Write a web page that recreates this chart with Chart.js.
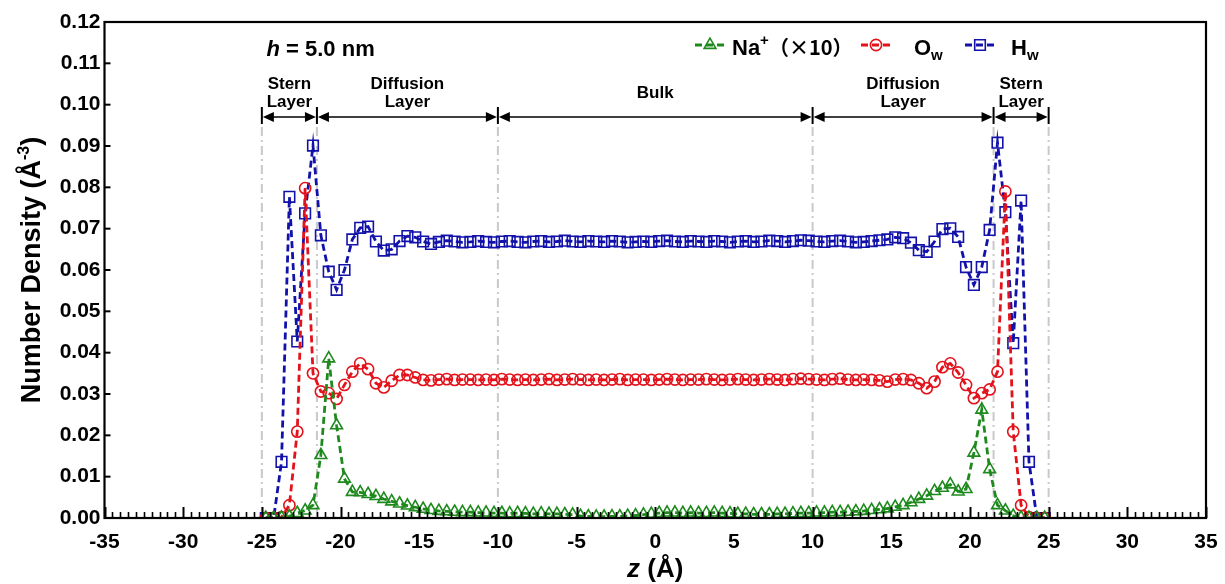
<!DOCTYPE html>
<html>
<head>
<meta charset="utf-8">
<script src="https://cdn.jsdelivr.net/npm/chart.js@4/dist/chart.umd.min.js"></script>
<style>
  html, body { margin: 0; padding: 0; background: #ffffff; }
  #wrap { width: 1225px; height: 584px; }
</style>
</head>
<body>
<div id="wrap"><canvas id="c" width="1225" height="584"></canvas></div>
<script>
// Bin centres along z (Å), 0.5 Å bins across the 5.0 nm channel
const zCenters = [
  -24.75, -24.25, -23.75, -23.25, -22.75, -22.25, -21.75, -21.25, -20.75, -20.25,
  -19.75, -19.25, -18.75, -18.25, -17.75, -17.25, -16.75, -16.25, -15.75, -15.25,
  -14.75, -14.25, -13.75, -13.25, -12.75, -12.25, -11.75, -11.25, -10.75, -10.25,
  -9.75, -9.25, -8.75, -8.25, -7.75, -7.25, -6.75, -6.25, -5.75, -5.25,
  -4.75, -4.25, -3.75, -3.25, -2.75, -2.25, -1.75, -1.25, -0.75, -0.25,
  0.25, 0.75, 1.25, 1.75, 2.25, 2.75, 3.25, 3.75, 4.25, 4.75,
  5.25, 5.75, 6.25, 6.75, 7.25, 7.75, 8.25, 8.75, 9.25, 9.75,
  10.25, 10.75, 11.25, 11.75, 12.25, 12.75, 13.25, 13.75, 14.25, 14.75,
  15.25, 15.75, 16.25, 16.75, 17.25, 17.75, 18.25, 18.75, 19.25, 19.75,
  20.25, 20.75, 21.25, 21.75, 22.25, 22.75, 23.25, 23.75, 24.25, 24.75
];

// Na+ number density, scaled by 10 (Å^-3)
const naDensity = [
  0, 0, 0.0001, 0.0004, 0.0012, 0.0018, 0.0031, 0.0152, 0.0386, 0.0224,
  0.0095, 0.0063, 0.0062, 0.0058, 0.0053, 0.0046, 0.0040, 0.0035, 0.0030, 0.0026,
  0.0022, 0.0019, 0.0017, 0.0016, 0.0015, 0.0014, 0.0014, 0.0013, 0.0013, 0.0012,
  0.0012, 0.0011, 0.0012, 0.0011, 0.0010, 0.0011, 0.0010, 0.0010, 0.0009, 0.0008,
  0.0005, 0.0004, 0.0003, 0.0003, 0.0004, 0.0004, 0.0005, 0.0006, 0.0008, 0.0010,
  0.0012, 0.0013, 0.0013, 0.0012, 0.0013, 0.0012, 0.0012, 0.0013, 0.0012, 0.0011,
  0.0010, 0.0010, 0.0009, 0.0009, 0.0009, 0.0010, 0.0010, 0.0011, 0.0012, 0.0012,
  0.0013, 0.0013, 0.0014, 0.0014, 0.0015, 0.0016, 0.0017, 0.0019, 0.0021, 0.0023,
  0.0027, 0.0031, 0.0038, 0.0046, 0.0054, 0.0065, 0.0073, 0.0081, 0.0064, 0.0070,
  0.0158, 0.0262, 0.0118, 0.0031, 0.0018, 0.0005, 0.0001, 0, 0, 0
];

// Water oxygen number density (Å^-3)
const owDensity = [
  0, 0, 0.0002, 0.0031, 0.0209, 0.0798, 0.0350, 0.0306, 0.0302, 0.0288,
  0.0322, 0.0354, 0.0374, 0.0360, 0.0326, 0.0316, 0.0332, 0.0346, 0.0346, 0.0340,
  0.0334, 0.0333, 0.0335, 0.0336, 0.0334, 0.0335, 0.0335, 0.0334, 0.0335, 0.0334,
  0.0336, 0.0335, 0.0334, 0.0335, 0.0334, 0.0335, 0.0336, 0.0334, 0.0335, 0.0336,
  0.0335, 0.0334, 0.0335, 0.0334, 0.0335, 0.0336, 0.0334, 0.0335, 0.0335, 0.0334,
  0.0335, 0.0336, 0.0335, 0.0334, 0.0335, 0.0335, 0.0336, 0.0335, 0.0334, 0.0335,
  0.0336, 0.0335, 0.0334, 0.0335, 0.0336, 0.0335, 0.0334, 0.0336, 0.0337, 0.0336,
  0.0335, 0.0334, 0.0336, 0.0337, 0.0335, 0.0334, 0.0335, 0.0334, 0.0333, 0.0330,
  0.0335, 0.0336, 0.0334, 0.0326, 0.0314, 0.0330, 0.0365, 0.0374, 0.0352, 0.0322,
  0.0290, 0.0302, 0.0311, 0.0354, 0.0790, 0.0209, 0.0031, 0.0002, 0, 0
];

// Water hydrogen number density (Å^-3)
const hwDensity = [
  0, 0, 0.0136, 0.0777, 0.0427, 0.0737, 0.0901, 0.0684, 0.0596, 0.0552,
  0.0600, 0.0674, 0.0702, 0.0705, 0.0669, 0.0647, 0.0650, 0.0670, 0.0682, 0.0679,
  0.0669, 0.0663, 0.0668, 0.0671, 0.0669, 0.0667, 0.0668, 0.0670, 0.0668, 0.0667,
  0.0669, 0.0670, 0.0668, 0.0667, 0.0669, 0.0670, 0.0668, 0.0669, 0.0671, 0.0669,
  0.0668, 0.0670, 0.0669, 0.0668, 0.0670, 0.0669, 0.0667, 0.0668, 0.0669, 0.0668,
  0.0670, 0.0671, 0.0669, 0.0668, 0.0670, 0.0669, 0.0668, 0.0670, 0.0669, 0.0667,
  0.0669, 0.0670, 0.0668, 0.0669, 0.0671, 0.0670, 0.0668, 0.0670, 0.0672, 0.0671,
  0.0669, 0.0668, 0.0670, 0.0671, 0.0669, 0.0667, 0.0668, 0.0670, 0.0672, 0.0674,
  0.0679, 0.0677, 0.0666, 0.0648, 0.0644, 0.0669, 0.0699, 0.0701, 0.0680, 0.0607,
  0.0564, 0.0607, 0.0697, 0.0908, 0.0740, 0.0423, 0.0768, 0.0136, 0, 0
];

// Axis ticks
const xTickValues = [-35, -30, -25, -20, -15, -10, -5, 0, 5, 10, 15, 20, 25, 30, 35];
const yTickValues = [0.00, 0.01, 0.02, 0.03, 0.04, 0.05, 0.06, 0.07, 0.08, 0.09, 0.10, 0.11, 0.12];

// Layer boundaries (Å) and their captions
const layerBounds = [-25, -21.5, -10, 10, 21.5, 25];
const layerNames = [["Stern", "Layer"], ["Diffusion", "Layer"], ["Bulk"], ["Diffusion", "Layer"], ["Stern", "Layer"]];

const FONT = "'Liberation Sans', Arial, Helvetica, 'Noto Sans CJK SC', sans-serif";
const NA_COLOR = '#1E8A1E';
const OW_COLOR = '#E3121B';
const HW_COLOR = '#1212AA';

function toPoints(values) {
  return zCenters.map((z, i) => ({ x: z, y: values[i] }));
}

// Draw a run of text pieces with individual fonts/offsets
function runsWidth(ctx, runs) {
  let w = 0;
  runs.forEach(r => { ctx.font = r.font; w += ctx.measureText(r.t).width; });
  return w;
}
function drawRuns(ctx, x, y, runs, align) {
  const w = runsWidth(ctx, runs);
  let cx = align === 'center' ? x - w / 2 : (align === 'right' ? x - w : x);
  ctx.textAlign = 'left';
  ctx.textBaseline = 'alphabetic';
  runs.forEach(r => {
    ctx.font = r.font;
    ctx.fillText(r.t, cx, y + (r.dy || 0));
    cx += ctx.measureText(r.t).width;
  });
}

function drawMarker(ctx, style, x, y, color) {
  ctx.save();
  ctx.strokeStyle = color;
  ctx.lineWidth = 1.6;
  ctx.setLineDash([]);
  ctx.beginPath();
  if (style === 'rect') {
    ctx.rect(x - 5.3, y - 5.3, 10.6, 10.6);
  } else if (style === 'circle') {
    ctx.arc(x, y, 5.6, 0, Math.PI * 2);
  } else {
    const r = 6.8;
    ctx.moveTo(x, y - r);
    ctx.lineTo(x + r * Math.sin(2 * Math.PI / 3), y - r * Math.cos(2 * Math.PI / 3));
    ctx.lineTo(x + r * Math.sin(4 * Math.PI / 3), y - r * Math.cos(4 * Math.PI / 3));
    ctx.closePath();
  }
  ctx.stroke();
  ctx.restore();
}

const decorPlugin = {
  id: 'decor',
  beforeDatasetsDraw(chart) {
    const { ctx, chartArea, scales: { x } } = chart;
    ctx.save();
    ctx.strokeStyle = '#c9c9c9';
    ctx.lineWidth = 2;
    ctx.setLineDash([9, 4, 2, 4]);
    layerBounds.forEach(b => {
      const px = x.getPixelForValue(b);
      ctx.beginPath();
      ctx.moveTo(px, chartArea.top + 105);
      ctx.lineTo(px, chartArea.bottom);
      ctx.stroke();
    });
    ctx.restore();
  },
  afterDraw(chart) {
    const { ctx, chartArea, scales: { x, y } } = chart;
    const { left, right, top, bottom } = chartArea;
    ctx.save();
    ctx.setLineDash([]);
    ctx.strokeStyle = '#000';
    ctx.fillStyle = '#000';

    // inward ticks on bottom axis: majors every 5 Å, minors every 0.5 Å
    for (let k = -70; k <= 70; k++) {
      const v = k * 0.5;
      const px = Math.round(x.getPixelForValue(v)) + 0.5;
      const major = (k % 10 === 0);
      ctx.lineWidth = major ? 2 : 1.6;
      ctx.beginPath();
      ctx.moveTo(px, bottom);
      ctx.lineTo(px, bottom - (major ? 11 : 6));
      ctx.stroke();
    }
    // inward ticks on left axis
    ctx.lineWidth = 2;
    yTickValues.forEach(v => {
      const py = y.getPixelForValue(v);
      ctx.beginPath();
      ctx.moveTo(left, py);
      ctx.lineTo(left + 6, py);
      ctx.stroke();
    });

    // frame
    ctx.lineWidth = 2.2;
    ctx.strokeRect(left, top, right - left, bottom - top);

    // layer arrows
    const ay = top + 95;
    layerBounds.forEach(b => {
      const px = x.getPixelForValue(b);
      ctx.lineWidth = 2;
      ctx.beginPath();
      ctx.moveTo(px, ay - 10);
      ctx.lineTo(px, ay + 7);
      ctx.stroke();
    });
    for (let i = 0; i < layerBounds.length - 1; i++) {
      const pa = x.getPixelForValue(layerBounds[i]) + 1;
      const pb = x.getPixelForValue(layerBounds[i + 1]) - 1;
      ctx.lineWidth = 1.6;
      ctx.beginPath();
      ctx.moveTo(pa + 8, ay);
      ctx.lineTo(pb - 8, ay);
      ctx.stroke();
      ctx.beginPath();
      ctx.moveTo(pa, ay);
      ctx.lineTo(pa + 11, ay - 5);
      ctx.lineTo(pa + 11, ay + 5);
      ctx.closePath();
      ctx.fill();
      ctx.beginPath();
      ctx.moveTo(pb, ay);
      ctx.lineTo(pb - 11, ay - 5);
      ctx.lineTo(pb - 11, ay + 5);
      ctx.closePath();
      ctx.fill();

      const cx = (x.getPixelForValue(layerBounds[i]) + x.getPixelForValue(layerBounds[i + 1])) / 2;
      const lines = layerNames[i];
      ctx.font = 'bold 17px ' + FONT;
      ctx.textAlign = 'center';
      ctx.textBaseline = 'alphabetic';
      if (lines.length === 2) {
        ctx.fillText(lines[0], cx, top + 67);
        ctx.fillText(lines[1], cx, top + 85);
      } else {
        ctx.fillText(lines[0], cx, top + 76);
      }
    }

    // channel width label
    drawRuns(ctx, left + 162, top + 34, [
      { t: 'h', font: 'italic bold 22px ' + FONT },
      { t: ' = 5.0 nm', font: 'bold 22px ' + FONT }
    ], 'left');

    // legend
    const ly = top + 25;
    const legendItems = [
      { cx: 710, color: NA_COLOR, style: 'triangle', tx: 732,
        runs: [{ t: 'Na', font: 'bold 22px ' + FONT }, { t: '+', font: 'bold 15px ' + FONT, dy: -10 },
               { t: '（×10）', font: "bold 20px 'Noto Sans CJK SC', " + FONT }] },
      { cx: 876, color: OW_COLOR, style: 'circle', tx: 914,
        runs: [{ t: 'O', font: 'bold 22px ' + FONT }, { t: 'w', font: 'bold 15px ' + FONT, dy: 5 }] },
      { cx: 980, color: HW_COLOR, style: 'rect', tx: 1011,
        runs: [{ t: 'H', font: 'bold 22px ' + FONT }, { t: 'w', font: 'bold 15px ' + FONT, dy: 5 }] }
    ];
    legendItems.forEach(it => {
      ctx.save();
      ctx.strokeStyle = it.color;
      ctx.lineWidth = 2.8;
      ctx.setLineDash([7, 4]);
      ctx.beginPath();
      ctx.moveTo(it.cx - 15, ly - 2);
      ctx.lineTo(it.cx + 15, ly - 2);
      ctx.stroke();
      ctx.restore();
      drawMarker(ctx, it.style, it.cx, ly - 2, it.color);
      ctx.fillStyle = '#000';
      drawRuns(ctx, it.tx, ly + 8, it.runs, 'left');
    });

    // axis titles
    drawRuns(ctx, (left + right) / 2, 577, [
      { t: 'z', font: 'italic bold 26px ' + FONT },
      { t: ' (Å)', font: 'bold 26px ' + FONT }
    ], 'center');

    ctx.save();
    ctx.translate(40, (top + bottom) / 2);
    ctx.rotate(-Math.PI / 2);
    drawRuns(ctx, 0, 0, [
      { t: 'Number Density (Å', font: 'bold 27px ' + FONT },
      { t: '-3', font: 'bold 16px ' + FONT, dy: -11 },
      { t: ')', font: 'bold 27px ' + FONT }
    ], 'center');
    ctx.restore();

    ctx.restore();
  }
};

function seriesDataset(label, values, color, style, radius) {
  return {
    label: label,
    data: toPoints(values),
    borderColor: color,
    backgroundColor: 'rgba(0,0,0,0)',
    borderWidth: 2.8,
    borderDash: [7, 4],
    tension: 0,
    pointStyle: style,
    pointRadius: radius,
    pointHoverRadius: radius,
    pointBorderColor: color,
    pointBackgroundColor: 'rgba(0,0,0,0)',
    pointBorderWidth: 1.6,
    fill: false
  };
}

new Chart(document.getElementById('c'), {
  type: 'line',
  data: {
    datasets: [
      seriesDataset('Na+ (×10)', naDensity, NA_COLOR, 'triangle', 6.8),
      seriesDataset('Ow', owDensity, OW_COLOR, 'circle', 5.6),
      seriesDataset('Hw', hwDensity, HW_COLOR, 'rect', 7.5)
    ]
  },
  options: {
    responsive: false,
    animation: false,
    devicePixelRatio: 1,
    layout: { padding: { top: 22, right: 19, left: 0, bottom: 0 } },
    plugins: { legend: { display: false }, tooltip: { enabled: false } },
    scales: {
      x: {
        type: 'linear',
        min: -35, max: 35,
        afterBuildTicks: s => { s.ticks = xTickValues.map(v => ({ value: v })); },
        afterFit: s => { s.height = 66; s.paddingLeft = 0; s.paddingRight = 0; },
        grid: { display: false, drawTicks: false },
        border: { display: false },
        ticks: {
          padding: 12,
          color: '#000',
          font: { family: FONT, size: 21, weight: 'bold' },
          maxRotation: 0,
          autoSkip: false,
          callback: v => String(v)
        }
      },
      y: {
        type: 'linear',
        min: 0, max: 0.12,
        afterBuildTicks: s => { s.ticks = yTickValues.map(v => ({ value: v })); },
        afterFit: s => { s.width = 104.5; s.paddingTop = 0; s.paddingBottom = 0; },
        grid: { display: false, drawTicks: false },
        border: { display: false },
        ticks: {
          padding: 4,
          color: '#000',
          font: { family: FONT, size: 21, weight: 'bold' },
          autoSkip: false,
          callback: v => Number(v).toFixed(2)
        }
      }
    }
  },
  plugins: [decorPlugin]
});
</script>
</body>
</html>
